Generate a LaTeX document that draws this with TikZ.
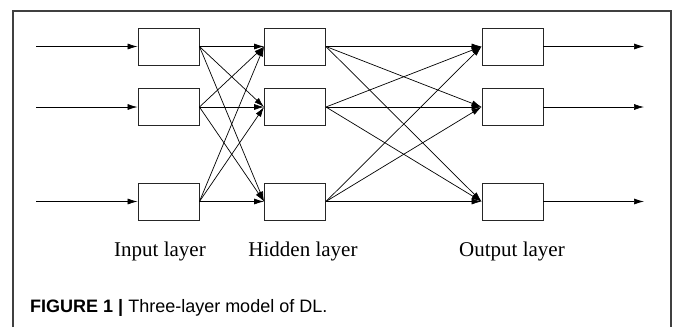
\documentclass[tikz,border=0pt]{standalone}
\usepackage{fontspec}
\setmainfont{Liberation Serif}
\setsansfont{Liberation Sans}
\usepackage{tikz}
\usetikzlibrary{arrows.meta}

\tikzset{
    unit/.style={draw=black!85, fill=white, line width=0.9bp, minimum width=61bp, minimum height=37bp, inner sep=0pt},
    link/.style={line width=0.7bp, -{Latex[length=10bp,width=6bp]}},
    layername/.style={font=\fontsize{21bp}{25bp}\selectfont, inner sep=0pt, anchor=base}
}

\begin{document}
\begin{tikzpicture}[x=1bp, y=-1bp]
        \useasboundingbox (0,0) rectangle (673,327);
        \draw [draw=black!75, line width=1.4bp] (13,327) -- (13,11) -- (671,11) -- (671,327);

        % three columns of units
        \foreach \n/\y in {1/46.5, 2/107, 3/201.5} {
            \node [unit] (in\n) at (168.5,\y) {};
            \node [unit] (hid\n) at (295,\y) {};
            \node [unit] (out\n) at (512.5,\y) {};
            \coordinate (src\n) at (36,\y);
            \coordinate (dst\n) at (644,\y);
        }

        \foreach \n in {1,2,3} {
            \draw [link] (src\n) -- (in\n.west);
            \draw [link] (out\n.east) -- (dst\n);
            \foreach \m in {1,2,3} {
                \draw [link] (in\n.east) -- (hid\m.west);
                \draw [link] (hid\n.east) -- (out\m.west);
            }
        }

        \node [layername] (inname) at (160,256) {Input layer};
        \node [layername] (hidname) at (303,256) {Hidden layer};
        \node [layername] (outname) at (512,256) {Output layer};

        \node [anchor=base west, inner sep=0pt, font=\sffamily\fontsize{18bp}{22bp}\selectfont] (caption) at (30,312)
            {\textbf{FIGURE 1 |} Three-layer model of DL.};
    \end{tikzpicture}
\end{document}
